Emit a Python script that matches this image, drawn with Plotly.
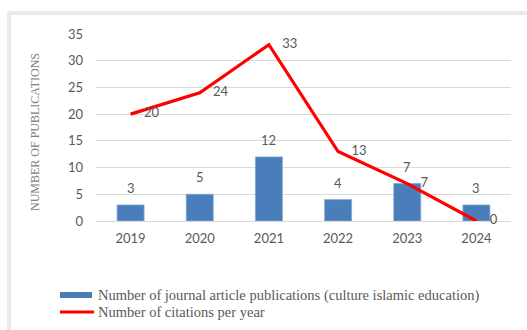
import plotly.graph_objects as go

years = ["2019", "2020", "2021", "2022", "2023", "2024"]
publications = [3, 5, 12, 4, 7, 3]
citations = [20, 24, 33, 13, 7, 0]
y_ticks = [0, 5, 10, 15, 20, 25, 30, 35]

bar_name = "Number of journal article publications (culture islamic education)"
line_name = "Number of citations per year"

W, H = 527, 330
L, R, T, B = 96, 16, 34, 109
PW, PH = W - L - R, H - T - B


def px(x):
    return (x - L) / PW


def py(y):
    return (H - B - y) / PH


sans = "Lato, 'Open Sans', sans-serif"
serif = "'Liberation Serif', 'DejaVu Serif', serif"
tick_col = "#595959"

fig = go.Figure()
fig.add_trace(go.Bar(
    x=years, y=publications, name=bar_name,
    marker=dict(color="#4a7ebb", line=dict(color="#7fa6d6", width=0.8)),
    width=0.39, showlegend=False,
))
fig.add_trace(go.Scatter(
    x=years, y=citations, name=line_name, mode="lines+text",
    line=dict(color="#ff0000", width=3.2),
    text=["    " + str(v) for v in citations], textposition="middle right",
    textfont=dict(family=sans, size=13, color=tick_col),
    cliponaxis=False, showlegend=False,
))

shapes = [
    # frame around the chart
    dict(type="rect", xref="paper", yref="paper",
         x0=px(9), x1=px(700), y0=py(13), y1=py(500),
         line=dict(color="#ebebe3", width=4), fillcolor="rgba(0,0,0,0)", layer="below"),
    # legend keys
    dict(type="rect", xref="paper", yref="paper",
         x0=px(60), x1=px(92), y0=py(298), y1=py(292),
         line=dict(width=0), fillcolor="#4a7ebb"),
    dict(type="line", xref="paper", yref="paper",
         x0=px(60), x1=px(94), y0=py(312), y1=py(312),
         line=dict(color="#ff0000", width=3)),
]

annotations = [
    dict(text=bar_name, xref="paper", yref="paper", x=px(96), y=py(295),
         xanchor="left", yanchor="middle", showarrow=False,
         font=dict(family=serif, size=14.5, color=tick_col)),
    dict(text=line_name, xref="paper", yref="paper", x=px(96), y=py(312),
         xanchor="left", yanchor="middle", showarrow=False,
         font=dict(family=serif, size=14.5, color=tick_col)),
    dict(text="NUMBER OF PUBLICATIONS", xref="paper", yref="paper",
         x=px(35), y=py(132), textangle=-90, xanchor="center", yanchor="middle",
         showarrow=False, font=dict(family=serif, size=12, color="#808080")),
]

# value labels above the bars (category index positions)
for i, v in enumerate(publications):
    annotations.append(dict(
        text=str(v), x=i, y=v, xref="x", yref="y", xanchor="center",
        yanchor="bottom", yshift=7, showarrow=False,
        font=dict(family=sans, size=13, color=tick_col)))

fig.update_layout(
    width=W, height=H,
    margin=dict(l=L, r=R, t=T, b=B, pad=0),
    paper_bgcolor="white", plot_bgcolor="white",
    shapes=shapes, annotations=annotations,
    showlegend=False,
    xaxis=dict(type="category", range=[-0.5, len(years) - 0.5],
               showgrid=False, showline=False, ticks="",
               tickfont=dict(family=sans, size=13, color=tick_col),
               ticklabelstandoff=8),
    yaxis=dict(range=[0, 35], tickvals=y_ticks, showgrid=True, gridcolor="#d9d9d9",
               gridwidth=1, zeroline=True, zerolinecolor="#d9d9d9", zerolinewidth=1,
               showline=False, ticks="",
               tickfont=dict(family=sans, size=13, color=tick_col),
               ticklabelstandoff=12),
)

fig.write_html("out.html")
